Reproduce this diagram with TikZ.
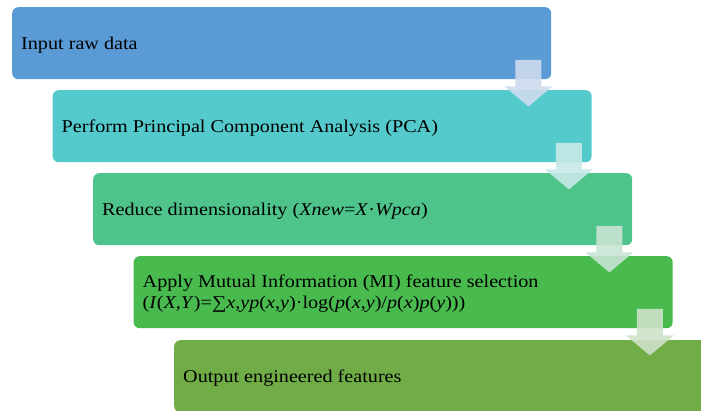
\documentclass[tikz,border=0pt]{standalone}
\usepackage{fontspec}
\setmainfont[FakeStretch=1.12]{Liberation Serif}
\usetikzlibrary{calc}

% step fills
\definecolor{stepA}{RGB}{91,155,213}
\definecolor{stepB}{RGB}{84,202,204}
\definecolor{stepC}{RGB}{78,196,139}
\definecolor{stepD}{RGB}{72,186,78}
\definecolor{stepE}{RGB}{112,173,71}
% down-arrow tints
\definecolor{arrA}{RGB}{206,219,239}
\definecolor{arrB}{RGB}{200,232,232}
\definecolor{arrC}{RGB}{200,228,212}
\definecolor{arrD}{RGB}{206,226,200}

% block arrow leaving the lower right corner of a step box
\newcommand\downarrowblock[2]{%
  \fill[#2, fill opacity=0.9]
    ($(#1.south east)+(-36,-19.5)$) -- ($(#1.south east)+(-10,-19.5)$)
    -- ($(#1.south east)+(-10,7)$) -- ($(#1.south east)+(1,7)$)
    -- ($(#1.south east)+(-23,27)$) -- ($(#1.south east)+(-47,7)$)
    -- ($(#1.south east)+(-36,7)$) -- cycle;}

\begin{document}
\begin{tikzpicture}[x=1pt, y=-1pt,
  stepbox/.style={rectangle, rounded corners=6pt, minimum width=539pt,
    minimum height=72pt, anchor=north west, inner sep=0pt, draw=none},
  lbl/.style={anchor=west, inner sep=0pt, align=left, text=black,
    font=\fontsize{18}{21}\selectfont}]
\useasboundingbox (0,0) rectangle (701,410);
\clip (0,0) rectangle (701,410);

\node[stepbox, fill=stepA] (b1) at (12,7) {};
\node[stepbox, fill=stepB] (b2) at (52.5,90) {};
\node[stepbox, fill=stepC] (b3) at (93,173) {};
\node[stepbox, fill=stepD] (b4) at (133.5,256) {};
\node[stepbox, fill=stepE] (b5) at (174,340) {};

\node[lbl] (t1) at ($(b1.west)+(9,1.5)$) {Input raw data};
\node[lbl] (t2) at ($(b2.west)+(9,1.5)$) {Perform Principal Component Analysis (PCA)};
\node[lbl] (t3) at ($(b3.west)+(9,1.5)$) {Reduce dimensionality (\textit{Xnew}=\textit{X}·\textit{Wpca})};
\node[lbl] (t4) at ($(b4.west)+(9,1.5)$) {Apply Mutual Information (MI) feature selection\\
  (\textit{I}(\textit{X},\textit{Y})=∑\textit{x},\textit{yp}(\textit{x},\textit{y})·log(\textit{p}(\textit{x},\textit{y})/\textit{p}(\textit{x})\textit{p}(\textit{y})))};
\node[lbl] (t5) at ($(b5.west)+(9,1.5)$) {Output engineered features};

\downarrowblock{b1}{arrA}
\downarrowblock{b2}{arrB}
\downarrowblock{b3}{arrC}
\downarrowblock{b4}{arrD}
\end{tikzpicture}
\end{document}
